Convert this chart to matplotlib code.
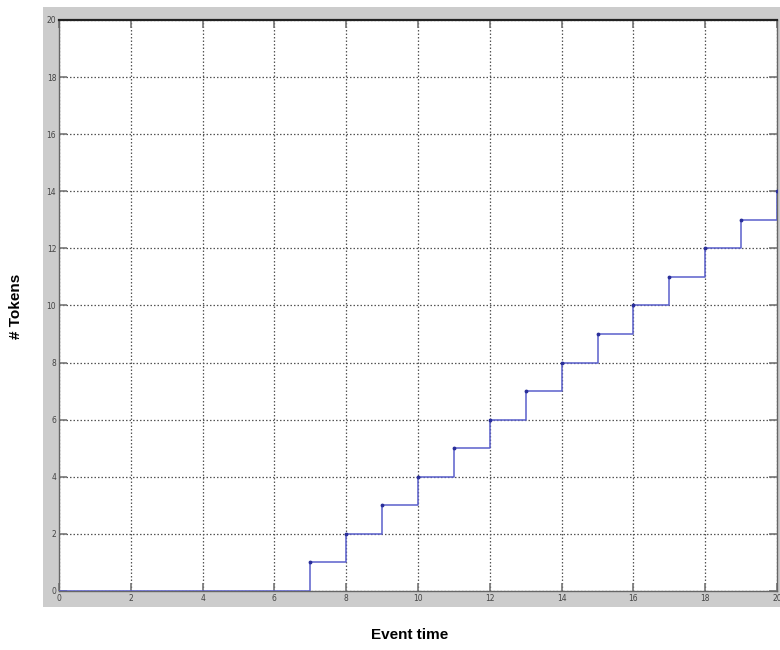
import matplotlib
matplotlib.use("Agg")
import matplotlib.pyplot as plt

# Token count over event time (staircase)
event_times = [0, 7, 8, 9, 10, 11, 12, 13, 14, 15, 16, 17, 18, 19, 20]
tokens = [0, 1, 2, 3, 4, 5, 6, 7, 8, 9, 10, 11, 12, 13, 14]
x_ticks = [0, 2, 4, 6, 8, 10, 12, 14, 16, 18, 20]
y_ticks = [0, 2, 4, 6, 8, 10, 12, 14, 16, 18, 20]

W, H = 780, 650
fig = plt.figure(figsize=(W / 100, H / 100), dpi=100)
fig.patch.set_facecolor("white")

# gray panel behind the plot area
bg = fig.add_axes([43 / W, 1 - 607 / H, (W - 43) / W, (607 - 7) / H], zorder=0)
bg.set_facecolor("#cccccc")
bg.set_xticks([])
bg.set_yticks([])
for s in bg.spines.values():
    s.set_visible(False)

ax = fig.add_axes([59 / W, 1 - 591 / H, (777 - 59) / W, (591 - 20) / H], zorder=1)
ax.set_facecolor("white")

ax.step(event_times, tokens, where="post", color="#5a5fcc", lw=1.1, zorder=3)
ax.plot(event_times[1:], tokens[1:], ls="none", marker=".", ms=3.5,
        color="#2a2f9a", zorder=4)

ax.set_xlim(0, 20)
ax.set_ylim(0, 20)
ax.set_xticks(x_ticks)
ax.set_yticks(y_ticks)
ax.tick_params(direction="in", length=6, width=1.2, color="#777777",
               labelsize=5.5, labelcolor="#444444", pad=2,
               top=True, right=True)
ax.grid(True, ls=(0, (1.2, 1.6)), color="#555555", lw=0.9)
for s in ["left", "bottom", "right"]:
    ax.spines[s].set_color("#666666")
    ax.spines[s].set_linewidth(1.0)
ax.spines["top"].set_color("#222222")
ax.spines["top"].set_linewidth(1.6)

fig.text(410 / W, 1 - 635 / H, "Event time", ha="center", va="center",
         fontsize=11, fontweight="bold", family="Liberation Sans")
fig.text(16 / W, 1 - 306 / H, "# Tokens", ha="center", va="center",
         rotation=90, fontsize=11, fontweight="bold", family="Liberation Sans")

fig.savefig("out.png", dpi=100)
